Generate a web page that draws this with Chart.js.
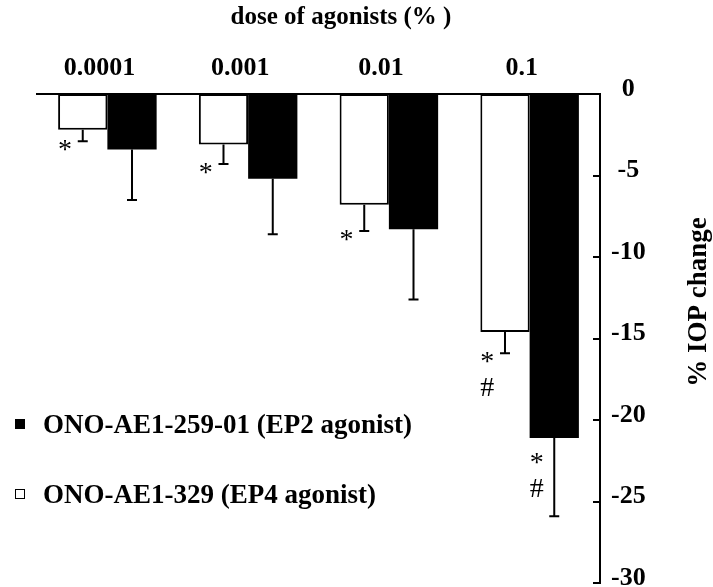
<!DOCTYPE html>
<html>
<head>
<meta charset="utf-8">
<script src="https://cdn.jsdelivr.net/npm/chart.js@4/dist/chart.umd.min.js"></script>
<style>
  html, body { margin: 0; padding: 0; background: #fff; }
  canvas { display: block; }
</style>
</head>
<body>
<canvas id="iop" width="713" height="587"></canvas>
<script>
// Doses of agonist (%), shown along the top
const doses = ['0.0001', '0.001', '0.01', '0.1'];

// ONO-AE1-329 (EP4 agonist): mean % IOP change and SEM
const ep4Mean = [-2.2, -3.1, -6.8, -14.6];
const ep4Sem  = [0.7, 1.2, 1.6, 1.3];

// ONO-AE1-259-01 (EP2 agonist): mean % IOP change and SEM
const ep2Mean = [-3.4, -5.2, -8.3, -21.1];
const ep2Sem  = [3.1, 3.4, 4.3, 4.8];

// Significance marks under each bar (* vs vehicle, # vs other dose)
const ep4Marks = [['*'], ['*'], ['*'], ['*', '#']];
const ep2Marks = [[], [], [], ['*', '#']];

// Value axis ticks
const yTicks = [0, -5, -10, -15, -20, -25, -30];

const SERIF = '"Liberation Serif", "Times New Roman", serif';

// One-sided (downward) SEM whiskers with a cap
const errorBars = {
  id: 'errorBars',
  afterDatasetsDraw(chart) {
    const ctx = chart.ctx;
    const y = chart.scales.y;
    chart.data.datasets.forEach((ds, di) => {
      const meta = chart.getDatasetMeta(di);
      meta.data.forEach((bar, i) => {
        const end = y.getPixelForValue(ds.data[i] - ds.sem[i]);
        ctx.save();
        ctx.strokeStyle = '#000';
        ctx.lineWidth = 2;
        ctx.beginPath();
        ctx.moveTo(bar.x, bar.y);
        ctx.lineTo(bar.x, end);
        ctx.moveTo(bar.x - 5, end);
        ctx.lineTo(bar.x + 5, end);
        ctx.stroke();
        ctx.restore();
      });
    });
  }
};

// Significance symbols below the bars
const sigMarks = {
  id: 'sigMarks',
  afterDatasetsDraw(chart) {
    const ctx = chart.ctx;
    const y = chart.scales.y;
    chart.data.datasets.forEach((ds, di) => {
      const meta = chart.getDatasetMeta(di);
      meta.data.forEach((bar, i) => {
        const marks = ds.marks[i];
        if (!marks.length) return;
        const left = bar.x - bar.width / 2;
        const base = ds.markFromWhisker
          ? y.getPixelForValue(ds.data[i] - ds.sem[i]) + 17
          : bar.y + 33;
        ctx.save();
        ctx.fillStyle = '#000';
        ctx.font = '28px ' + SERIF;
        ctx.textAlign = 'left';
        ctx.textBaseline = 'alphabetic';
        marks.forEach((m, k) => ctx.fillText(m, left, base + k * 26));
        ctx.restore();
      });
    });
  }
};

// Inward tick marks on the right-hand value axis
const innerTicks = {
  id: 'innerTicks',
  afterDatasetsDraw(chart) {
    const ctx = chart.ctx;
    const y = chart.scales.y;
    const x0 = chart.chartArea.right;
    ctx.save();
    ctx.strokeStyle = '#000';
    ctx.lineWidth = 2;
    ctx.beginPath();
    yTicks.forEach(v => {
      const py = Math.round(y.getPixelForValue(v));
      ctx.moveTo(x0 - 7, py);
      ctx.lineTo(x0, py);
    });
    ctx.stroke();
    ctx.restore();
  }
};

// Headline, rotated axis title and the in-plot legend
const annotations = {
  id: 'annotations',
  afterDraw(chart) {
    const ctx = chart.ctx;
    ctx.save();
    ctx.fillStyle = '#000';

    ctx.font = 'bold 25px ' + SERIF;
    ctx.textAlign = 'center';
    ctx.textBaseline = 'alphabetic';
    ctx.fillText('dose of agonists (% )', 341, 24);

    ctx.save();
    ctx.font = 'bold 27px ' + SERIF;
    ctx.translate(706, 302);
    ctx.rotate(-Math.PI / 2);
    ctx.textAlign = 'center';
    ctx.fillText('% IOP change', 0, 0);
    ctx.restore();

    // legend lists EP2 first, then EP4
    const items = [chart.data.datasets[1], chart.data.datasets[0]];
    ctx.font = 'bold 27px ' + SERIF;
    ctx.textAlign = 'left';
    items.forEach((ds, k) => {
      const cy = 424 + k * 70;
      ctx.fillStyle = ds.backgroundColor;
      ctx.fillRect(15, cy - 5, 10, 10);
      ctx.strokeStyle = '#000';
      ctx.lineWidth = 1;
      ctx.strokeRect(15.5, cy - 4.5, 9, 9);
      ctx.fillStyle = '#000';
      ctx.fillText(ds.label, 43, cy + 9);
    });
    ctx.restore();
  }
};

new Chart(document.getElementById('iop'), {
  type: 'bar',
  data: {
    labels: doses,
    datasets: [
      {
        label: 'ONO-AE1-329 (EP4 agonist)',
        data: ep4Mean,
        sem: ep4Sem,
        marks: ep4Marks,
        markFromWhisker: true,
        backgroundColor: '#ffffff',
        borderColor: '#000000',
        borderWidth: 2,
        borderSkipped: false
      },
      {
        label: 'ONO-AE1-259-01 (EP2 agonist)',
        data: ep2Mean,
        sem: ep2Sem,
        marks: ep2Marks,
        markFromWhisker: false,
        backgroundColor: '#000000',
        borderColor: '#000000',
        borderWidth: 0,
        borderSkipped: false
      }
    ]
  },
  options: {
    responsive: false,
    animation: false,
    devicePixelRatio: 1,
    categoryPercentage: 0.7,
    barPercentage: 1.0,
    layout: { padding: { left: 37, right: 0, top: 0, bottom: 4 } },
    plugins: {
      legend: { display: false },
      title: { display: false },
      tooltip: { enabled: false }
    },
    scales: {
      x: {
        position: 'top',
        grid: { display: false, drawTicks: false },
        border: { display: true, color: '#000', width: 2 },
        ticks: {
          color: '#000',
          font: { family: SERIF, size: 26, weight: 'bold' },
          padding: 10,
          labelOffset: -8,
          maxRotation: 0
        },
        afterFit(scale) {
          scale.height = 94;
          scale.paddingLeft = 0;
          scale.paddingRight = 0;
        }
      },
      y: {
        position: 'right',
        min: -30,
        max: 0,
        afterBuildTicks(scale) { scale.ticks = yTicks.map(v => ({ value: v })); },
        grid: { display: false, drawTicks: false },
        border: { display: true, color: '#000', width: 2 },
        ticks: {
          color: '#000',
          font: { family: SERIF, size: 26, weight: 'bold' },
          padding: 11,
          crossAlign: 'center',
          labelOffset: -5,
          callback: v => String(v)
        },
        afterFit(scale) {
          scale.width = 113;
          scale.paddingTop = 0;
          scale.paddingBottom = 0;
        }
      }
    }
  },
  plugins: [errorBars, sigMarks, innerTicks, annotations]
});
</script>
</body>
</html>
